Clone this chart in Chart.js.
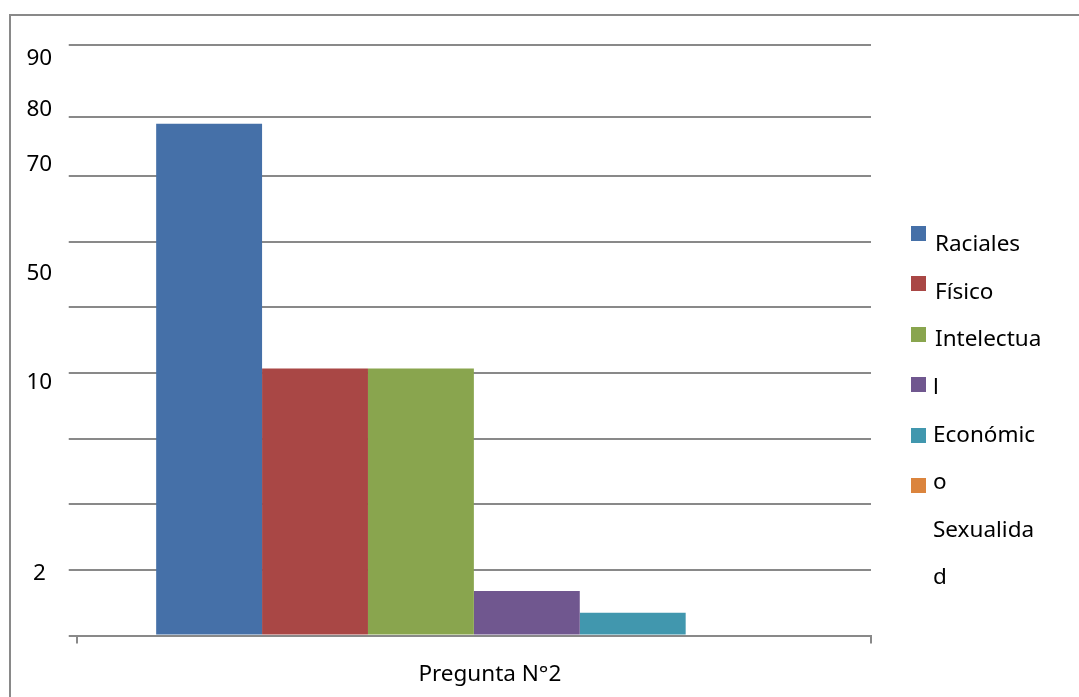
<!DOCTYPE html>
<html><head><meta charset="utf-8">
<script src="https://cdn.jsdelivr.net/npm/chart.js@4"></script>
<style>
html,body{margin:0;padding:0;background:#fff;overflow:hidden;}
#wrap{position:relative;width:1079px;height:697px;overflow:hidden;}
#frame{position:absolute;left:9px;top:14px;width:1100px;height:720px;border:2px solid #898989;box-sizing:border-box;}
#c{position:absolute;left:0;top:0;width:1079px;height:720px;}
.lg{position:absolute;font-family:"Noto Sans";font-size:22.5px;color:#000;line-height:26px;white-space:nowrap;}
.sw{position:absolute;width:15px;height:15px;}
</style></head>
<body><div id="wrap"><div id="frame"></div><canvas id="c" width="1079" height="720"></canvas><div id="legend"></div></div>
<script>
const categories = ["Pregunta N°2"];
const seriesNames = ["Raciales", "Físico", "Intelectual", "Serie 4", "Económico", "Sexualidad"];
const seriesValues = [[78], [40.7], [40.7], [6.8], [3.45], [0]];
const seriesColors = ["#4570A8", "#A94745", "#89A54E", "#70578F", "#4197AE", "#DB843D"];
const gridValues = [0, 10, 20, 30, 40, 50, 60, 70, 79.1, 90];
const yTickLabels = ["2", "10", "50", "70", "80", "90"];
const yTickPositions = [9.5, 38.5, 55.1, 71.8, 80.1, 88.0];
const legendLines = ["Raciales", "Físico", "Intelectua", "l", "Económic", "o", "Sexualida", "d"];

const FONT = "Noto Sans";
const GRID = "#898989";

new Chart(document.getElementById('c'), {
  type: 'bar',
  data: {
    labels: categories,
    datasets: seriesValues.map((vals, i) => ({
      label: seriesNames[i],
      data: vals,
      backgroundColor: seriesColors[i],
      borderWidth: 0,
      yAxisID: 'y',
      categoryPercentage: 0.8,
      barPercentage: 1.0
    }))
  },
  options: {
    responsive: false,
    animation: false,
    devicePixelRatio: 1,
    layout: { padding: { left: 10, right: 208, top: 45, bottom: 14 } },
    plugins: { legend: { display: false }, tooltip: { enabled: false } },
    scales: {
      x: {
        position: 'bottom',
        grid: { display: true, drawOnChartArea: false, drawTicks: true, tickLength: 8, color: GRID, lineWidth: 2, offset: true },
        border: { display: true, color: GRID, width: 2 },
        ticks: { font: { family: FONT, size: 22.5, lineHeight: 1 }, color: '#000', padding: 20, labelOffset: 16 }
      },
      yLab: {
        type: 'linear', position: 'left', weight: 1, min: 0, max: 90,
        grid: { display: false, drawTicks: false }, border: { display: false },
        afterBuildTicks: s => { s.ticks = yTickPositions.map(v => ({ value: v })); },
        ticks: { autoSkip: false, callback: (v, i) => yTickLabels[i], crossAlign: 'center', padding: 16.5,
                 font: { family: FONT, size: 22.5 }, color: '#000' }
      },
      y: {
        type: 'linear', position: 'left', weight: 0, min: 0, max: 90,
        afterBuildTicks: s => { s.ticks = gridValues.map(v => ({ value: v })); },
        grid: { color: GRID, lineWidth: 2, tickLength: 8, drawTicks: true },
        border: { display: false },
        ticks: { display: false }
      }
    }
  }
});

const lg = document.getElementById('legend');
legendLines.forEach((t, i) => {
  const d = document.createElement('div');
  d.className = 'lg';
  d.textContent = t;
  d.style.left = (i < 3 ? 935 : 933) + 'px';
  d.style.top = (252 + i * 47.6 - 21.8) + 'px';
  lg.appendChild(d);
});
seriesColors.forEach((c, i) => {
  const s = document.createElement('div');
  s.className = 'sw';
  s.style.background = c;
  s.style.left = '911px';
  s.style.top = (226 + i * 50.4) + 'px';
  lg.appendChild(s);
});
</script>
</body></html>
